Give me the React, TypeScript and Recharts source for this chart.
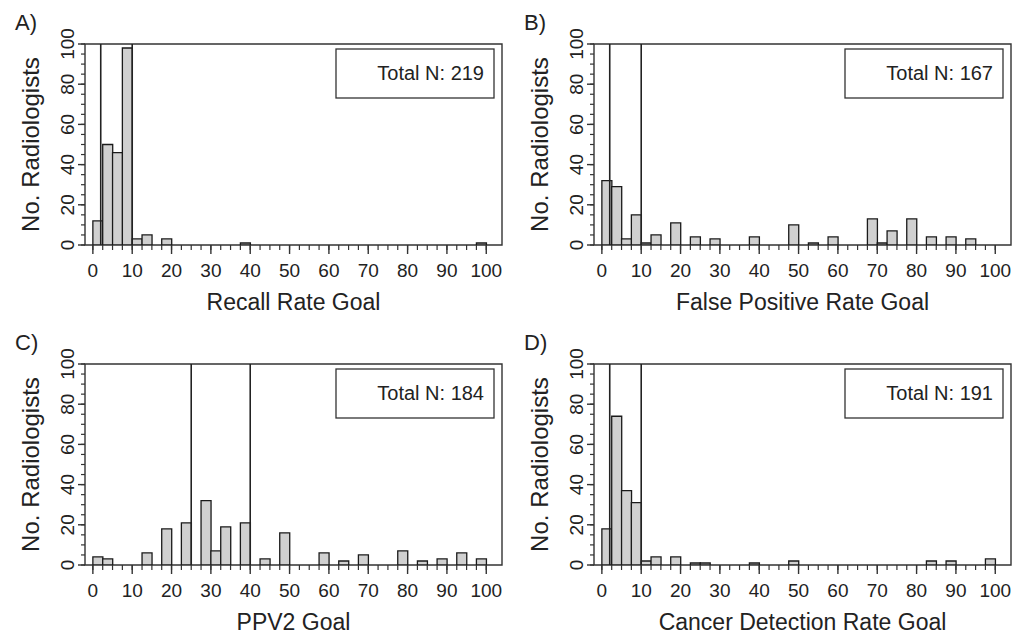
import React from 'react';
import { ComposedChart, Bar, XAxis, YAxis, ReferenceLine, ReferenceArea } from 'recharts';

// Histogram bin centres (bins are 2.5 units wide, 0 to 100)
const BIN_MIDS = [
  1.25, 3.75, 6.25, 8.75, 11.25, 13.75, 16.25, 18.75, 21.25, 23.75,
  26.25, 28.75, 31.25, 33.75, 36.25, 38.75, 41.25, 43.75, 46.25, 48.75,
  51.25, 53.75, 56.25, 58.75, 61.25, 63.75, 66.25, 68.75, 71.25, 73.75,
  76.25, 78.75, 81.25, 83.75, 86.25, 88.75, 91.25, 93.75, 96.25, 98.75,
];

const RECALL_COUNTS = [
  12, 50, 46, 98, 3, 5, 0, 3, 0, 0,
  0, 0, 0, 0, 0, 1, 0, 0, 0, 0,
  0, 0, 0, 0, 0, 0, 0, 0, 0, 0,
  0, 0, 0, 0, 0, 0, 0, 0, 0, 1,
];
const FALSE_POS_COUNTS = [
  32, 29, 3, 15, 1, 5, 0, 11, 0, 4,
  0, 3, 0, 0, 0, 4, 0, 0, 0, 10,
  0, 1, 0, 4, 0, 0, 0, 13, 1, 7,
  0, 13, 0, 4, 0, 4, 0, 3, 0, 0,
];
const PPV2_COUNTS = [
  4, 3, 0, 0, 0, 6, 0, 18, 0, 21,
  0, 32, 7, 19, 0, 21, 0, 3, 0, 16,
  0, 0, 0, 6, 0, 2, 0, 5, 0, 0,
  0, 7, 0, 2, 0, 3, 0, 6, 0, 3,
];
const CDR_COUNTS = [
  18, 74, 37, 31, 2, 4, 0, 4, 0, 1,
  1, 0, 0, 0, 0, 1, 0, 0, 0, 2,
  0, 0, 0, 0, 0, 0, 0, 0, 0, 0,
  0, 0, 0, 2, 0, 2, 0, 0, 0, 3,
];

const PANEL_LETTERS = ['A)', 'B)', 'C)', 'D)'];
const PANEL_TITLES = ['Recall Rate Goal', 'False Positive Rate Goal', 'PPV2 Goal', 'Cancer Detection Rate Goal'];
const PANEL_TOTALS = [219, 167, 184, 191];
const PANEL_LINES = [[2, 10], [2, 10], [25, 40], [2, 10]];

const X_MAJOR = [0, 10, 20, 30, 40, 50, 60, 70, 80, 90, 100];
const X_MINOR = [
  0, 2.5, 5, 7.5, 10, 12.5, 15, 17.5, 20, 22.5, 25, 27.5, 30, 32.5, 35, 37.5, 40, 42.5, 45, 47.5,
  50, 52.5, 55, 57.5, 60, 62.5, 65, 67.5, 70, 72.5, 75, 77.5, 80, 82.5, 85, 87.5, 90, 92.5, 95, 97.5, 100,
];
const Y_MAJOR = [0, 20, 40, 60, 80, 100];
const Y_MINOR = [0, 5, 10, 15, 20, 25, 30, 35, 40, 45, 50, 55, 60, 65, 70, 75, 80, 85, 90, 95, 100];

const X_DOMAIN: [number, number] = [-2, 104];
const Y_DOMAIN: [number, number] = [0, 100];

const FONT = '"Liberation Sans", Arial, Helvetica, sans-serif';
const INK = '#222';
const LINE = '#333';
const BAR_FILL = '#d0d0d0';

const W = 509;
const H = 320;

function YTick(props: any) {
  const { x, y, payload } = props;
  return (
    <text
      x={x}
      y={y}
      transform={`rotate(-90 ${x} ${y})`}
      textAnchor="middle"
      fontSize={19}
      fontFamily={FONT}
      fill={INK}
    >
      {payload.value}
    </text>
  );
}

function NoLabel() {
  return <g />;
}

function Panel({ idx, counts, left, top }: { idx: number; counts: number[]; left: number; top: number }) {
  const data = BIN_MIDS.map((x, i) => ({ x, n: counts[i] }));
  return (
    <div style={{ position: 'absolute', left, top, width: W, height: H }}>
      <ComposedChart
        width={W}
        height={H}
        data={data}
        margin={{ top: 44, right: 7, bottom: 35, left: 25 }}
        barCategoryGap={0}
        barGap={0}
      >
        {/* minor ticks axis (closest to the plot), also the bars' axis */}
        <XAxis
          dataKey="x"
          type="number"
          domain={X_DOMAIN}
          ticks={X_MINOR}
          interval={0}
          tick={<NoLabel />}
          tickSize={5}
          height={1}
          axisLine={false}
          tickLine={{ stroke: LINE, strokeWidth: 1.2 }}
          allowDataOverflow
        />
        <XAxis
          xAxisId="major"
          dataKey="x"
          type="number"
          domain={X_DOMAIN}
          ticks={X_MAJOR}
          interval={0}
          tickSize={9}
          tickMargin={9}
          height={39}
          axisLine={false}
          tickLine={{ stroke: LINE, strokeWidth: 1.4, transform: 'translate(0,-1)' }}
          tick={{ fontSize: 19, fontFamily: FONT, fill: INK }}
          allowDataOverflow
        />
        <YAxis
          type="number"
          dataKey="n"
          domain={Y_DOMAIN}
          ticks={Y_MINOR}
          interval={0}
          tick={<NoLabel />}
          tickSize={4}
          width={1}
          axisLine={false}
          tickLine={{ stroke: LINE, strokeWidth: 1.2 }}
          allowDataOverflow
        />
        <YAxis
          yAxisId="major"
          dataKey="n"
          type="number"
          domain={Y_DOMAIN}
          ticks={Y_MAJOR}
          interval={0}
          tickSize={7}
          tickMargin={3}
          width={59}
          axisLine={false}
          tickLine={{ stroke: LINE, strokeWidth: 1.4, transform: 'translate(1,0)' }}
          tick={<YTick />}
          allowDataOverflow
        />
        <ReferenceArea
          x1={X_DOMAIN[0]}
          x2={X_DOMAIN[1]}
          y1={Y_DOMAIN[0]}
          y2={Y_DOMAIN[1]}
          fill="none"
          fillOpacity={0}
          stroke={LINE}
          strokeWidth={1.4}
          ifOverflow="visible"
        />
        <Bar dataKey="n" fill={BAR_FILL} stroke="#1a1a1a" strokeWidth={1.3} isAnimationActive={false} />
        {PANEL_LINES[idx].map((v) => (
          <ReferenceLine key={v} x={v} stroke={INK} strokeWidth={1.6} ifOverflow="visible" />
        ))}
        <g>
          <rect x={336} y={49} width={158} height={49} fill="#fff" stroke={LINE} strokeWidth={1.3} />
          <text x={484} y={80} textAnchor="end" fontSize={20} fontFamily={FONT} fill={INK}>
            {`Total N: ${PANEL_TOTALS[idx]}`}
          </text>
        </g>
        <text x={15} y={30} fontSize={22} fontFamily={FONT} fill={INK}>
          {PANEL_LETTERS[idx]}
        </text>
        <text
          x={39}
          y={144.5}
          transform="rotate(-90 39 144.5)"
          textAnchor="middle"
          fontSize={24}
          fontFamily={FONT}
          fill={INK}
        >
          No. Radiologists
        </text>
        <text x={293.5} y={310} textAnchor="middle" fontSize={23} fontFamily={FONT} fill={INK}>
          {PANEL_TITLES[idx]}
        </text>
      </ComposedChart>
    </div>
  );
}

export default function App() {
  return (
    <div style={{ position: 'absolute', left: 0, top: 0, width: 1018, height: 639, background: '#fff' }}>
      <Panel idx={0} counts={RECALL_COUNTS} left={0} top={0} />
      <Panel idx={1} counts={FALSE_POS_COUNTS} left={509} top={0} />
      <Panel idx={2} counts={PPV2_COUNTS} left={0} top={320} />
      <Panel idx={3} counts={CDR_COUNTS} left={509} top={320} />
    </div>
  );
}
